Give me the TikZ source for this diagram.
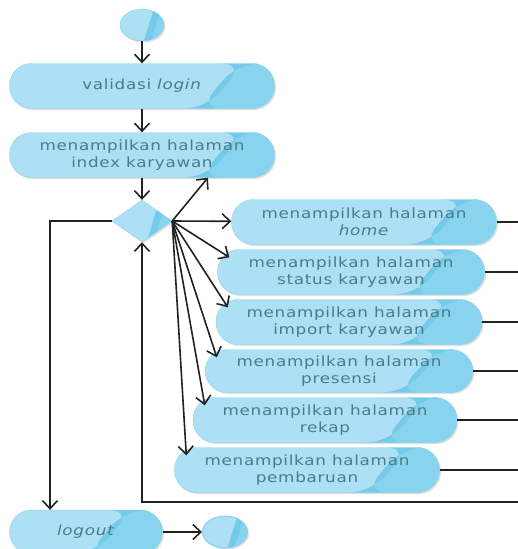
\documentclass[tikz,border=0pt]{standalone}
\usepackage{fontspec}
\newfontfamily\actfont[LetterSpace=5,FakeStretch=1.2]{DejaVu Sans}
\usepackage{tikz}
\usetikzlibrary{positioning,calc,arrows.meta,shapes.geometric,shadows}
\definecolor{actfill}{HTML}{ADE0F4}
\definecolor{actdark}{HTML}{88D4EF}
\definecolor{actstripe}{HTML}{74CAE9}
\definecolor{actline}{HTML}{8AD3EE}
\definecolor{acttext}{HTML}{4C7B8B}
\definecolor{flowline}{HTML}{222222}
\tikzset{
	activity diagram/.style={
		x=1pt,y=-1pt,
		flow edge/.style={
			draw=flowline,
			line width=1.6pt,
			-{Straight Barb[length=8pt,width=15pt]}
		},
		plain edge/.style={
			draw=flowline,
			line width=1.6pt
		}
	},
	glossy/.style={
		draw=actline,
		fill=actfill,
		drop shadow={shadow xshift=1.5pt,shadow yshift=-1.5pt,opacity=0.25},
		path picture={% darker part right of the diagonal
			\fill[actdark] ($(path picture bounding box.south east)+(-#1,0)$)
				-- ($(path picture bounding box.north east)+(-#1/2,0)$)
				-- (path picture bounding box.north east)
				-- (path picture bounding box.south east) -- cycle;
			\fill[actstripe] ($(path picture bounding box.south east)+(-#1,0)$)
				-- ($(path picture bounding box.north east)+(-#1/2,0)$)
				-- ($(path picture bounding box.north east)+(-#1/2+7,0)$)
				-- ($(path picture bounding box.south east)+(-#1+7,0)$) -- cycle;
		}
	},
	activity/.style={
		rectangle,
		rounded corners=22pt,
		glossy=75,
		text=acttext,
		font=\actfont\fontsize{14}{17}\selectfont,
		align=center,
		minimum width=265pt,
		minimum height=45pt,
		inner sep=0pt
	},
	start node/.style={
		ellipse,
		glossy=20,
		minimum width=44pt,
		minimum height=32pt,
		inner sep=0pt
	},
	decision/.style={
		diamond,
		glossy=25,
		minimum width=60pt,
		minimum height=42pt,
		inner sep=0pt
	},
	final node/.style={
		ellipse,
		glossy=20,
		line width=1pt,
		minimum width=45pt,
		minimum height=32pt,
		inner sep=0pt,
		append after command={
			\pgfextra{\draw[actline,line width=0.8pt] (\tikzlastnode.center) ellipse (17pt and 11.5pt);}
		}
	}
}

\begin{document}
\begin{tikzpicture}[activity diagram]
	\useasboundingbox (0,0) rectangle (518,549);
	\node[start node] (start) at (142,25) {};
	\node[activity] (valid) at (142,86) {validasi \textit{login}};
	\node[activity] (idx) at (142,155) {menampilkan halaman\\index karyawan};
	\node[decision] (dec) at (142,221) {};
	\node[activity] (home) at (364,222) {menampilkan halaman\\\textit{home}};
	\node[activity,minimum width=267pt] (status) at (351,272) {menampilkan halaman\\status karyawan};
	\node[activity,minimum width=266pt] (import) at (349,322) {menampilkan halaman\\import karyawan};
	\node[activity,minimum width=268pt,minimum height=43pt] (presensi) at (339,371) {menampilkan halaman\\presensi};
	\node[activity,minimum width=264pt] (rekap) at (325,420) {menampilkan halaman\\rekap};
	\node[activity] (baru) at (307,470) {menampilkan halaman\\pembaruan};
	\node[activity,minimum width=153pt,minimum height=44pt] (logout) at (86,532) {\textit{logout}};
	\node[final node] (stop) at (225,532) {};
	\coordinate (edge) at (518,502); % lines run off the right border
	\coordinate (back) at (142,502);
	\coordinate (turn) at (50,221);

	\draw[flow edge] (start) -- (valid);
	\draw[flow edge] (valid) -- (idx);
	\draw[flow edge] (idx) -- (dec);
	\draw[flow edge] (dec.east) -- (idx.-19);
	\draw[flow edge] (dec.east) -- (home);
	\foreach \act in {status,import,presensi,rekap,baru}
		\draw[flow edge] (dec.east) -- ($(\act.north west)+(12,8)$);
	\foreach \act in {home,status,import,presensi,rekap,baru}
		\draw[plain edge] (\act.east) -- (\act.east -| edge);
	\draw[flow edge] (edge) -- (back) -- (dec.south);
	\draw[flow edge] (dec.west) -- (turn) -- (turn |- logout.north);
	\draw[flow edge] (logout) -- (stop);
\end{tikzpicture}
\end{document}
